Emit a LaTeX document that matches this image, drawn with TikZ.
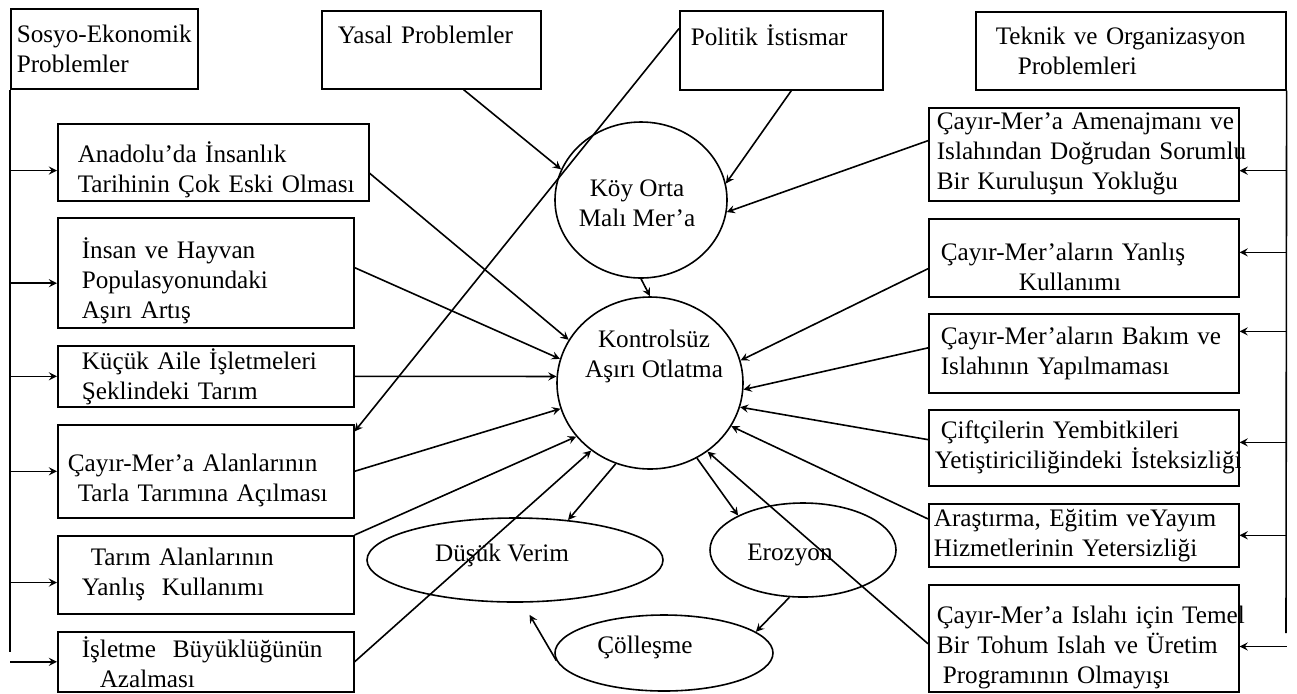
\documentclass[tikz,border=0pt]{standalone}
\usepackage{fontspec}
\setmainfont{Liberation Serif}
\usetikzlibrary{shapes.geometric}
\newcommand{\nodefont}{\fontsize{12.6}{15}\selectfont}
\newcommand{\lowstrut}{\rule{0pt}{18pt}}
\hyphenpenalty=10000
\exhyphenpenalty=10000

\begin{document}
\begin{tikzpicture}[
  x=0.5pt, y=-0.5pt,
  box/.style={draw, thick, anchor=north west, align=left, inner ysep=1pt, font=\nodefont},
  oval/.style={draw, thick, ellipse, inner sep=0pt},
  txt/.style={align=center, inner sep=0pt, font=\nodefont},
  arr/.style={->, thick, >=stealth},
  trunk/.style={thick}
]
  \useasboundingbox (0,0) rectangle (1297,693);

  % headings
  \node[box, inner xsep=3pt, text width=87.5pt, minimum height=40pt] (sosyo) at (10,8) {Sosyo-Ekonomik\\Problemler};
  \node[box, inner xsep=8pt, text width=93.5pt, minimum height=39pt] (yasal) at (321,10) {Yasal~Problemler\\~};
  \node[box, inner xsep=5.5pt, text width=90.5pt, minimum height=39.5pt] (politik) at (679,10) {Politik~İstismar\\~};
  \node[box, inner xsep=10pt, text width=135pt, minimum height=39pt] (teknik) at (975,11) {Teknik~ve~Organizasyon\\\hspace*{11pt}Problemleri};

  % left column
  \node[box, inner xsep=10pt, text width=135.5pt, minimum height=38.5pt] (anadolu) at (57,123) {\lowstrut Anadolu’da~İnsanlık\\Tarihinin~Çok~Eski~Olması};
  \node[box, inner xsep=12pt, text width=124pt, minimum height=55pt] (insan) at (57,217) {\lowstrut İnsan~ve~Hayvan\\Populasyonundaki\\Aşırı~Artış};
  \node[box, inner xsep=12pt, text width=124pt, minimum height=30.5pt] (kucuk) at (57,345) {Küçük~Aile~İşletmeleri\\Şeklindeki~Tarım};
  \node[box, inner xsep=5pt, text width=138pt, minimum height=46.5pt] (cayiralan) at (57,424) {\lowstrut Çayır-Mer’a~Alanlarının\\\hspace*{5pt}Tarla~Tarımına~Açılması};
  \node[box, inner xsep=12pt, text width=124pt, minimum height=39pt] (tarim) at (57,535) {\hspace*{4.5pt}Tarım~Alanlarının\\Yanlış~~Kullanımı};
  \node[box, inner xsep=12pt, text width=124pt, minimum height=30pt] (isletme) at (57,631) {İşletme~~Büyüklüğünün\\\hspace*{9pt}Azalması};

  % right column
  \node[box, inner xsep=4pt, text width=147pt, minimum height=46.5pt] (amenaj) at (928,107) {Çayır-Mer’a~Amenajmanı~ve\\Islahından~Doğrudan~Sorumlu\\Bir~Kuruluşun~Yokluğu};
  \node[box, inner xsep=6pt, text width=143pt, minimum height=39pt] (yanlis) at (928,218) {\lowstrut Çayır-Mer’aların~Yanlış\\\hspace*{39pt}Kullanımı};
  \node[box, inner xsep=6pt, text width=143pt, minimum height=39.5pt] (bakim) at (928,313) {Çayır-Mer’aların~Bakım~ve\\Islahının~Yapılmaması};
  \node[box, inner xsep=3pt, text width=149pt, minimum height=38pt] (ciftci) at (928,409) {\hspace*{3pt}Çiftçilerin~Yembitkileri\\Yetiştiriciliğindeki~İsteksizliği};
  \node[box, inner xsep=2.5pt, text width=150pt, minimum height=31.5pt] (arastirma) at (928,503) {Araştırma,~Eğitim~veYayım\\Hizmetlerinin~Yetersizliği};
  \node[box, inner xsep=4pt, text width=147pt, minimum height=53.5pt] (islah) at (928,584) {\lowstrut Çayır-Mer’a~Islahı~için~Temel\\Bir~Tohum~Islah~ve~Üretim\\\hspace*{3pt}Programının~Olmayışı};

  % centre
  \node[oval, minimum width=86pt, minimum height=78pt] (koy) at (641,200) {};
  \node[txt] (koytxt) at (637,203) {Köy Orta\\Malı Mer’a};
  \node[oval, minimum width=93pt, minimum height=86pt] (kontrol) at (650,383) {};
  \node[txt] (kontroltxt) at (654,356) {Kontrolsüz\\Aşırı Otlatma};
  \node[oval, minimum width=148pt, minimum height=42pt] (dusuk) at (515,560) {};
  \node[txt] (dusuktxt) at (502,555) {Düşük Verim};
  \node[oval, minimum width=93pt, minimum height=47pt] (erozyon) at (803,550) {};
  \node[txt] (erozyontxt) at (790,555) {Erozyon};
  \node[oval, minimum width=109pt, minimum height=38pt] (col) at (664,653) {};
  \node[txt] (coltxt) at (645,647) {Çölleşme};

  % side trunks
  \coordinate (lend) at (10,652);
  \coordinate (rend) at (1286,633);
  \draw[trunk] (sosyo.south west) -- (lend);
  \draw[trunk] (teknik.south east) -- (rend);

  \draw[arr] (sosyo.south west |- anadolu.-177) -- (anadolu.-177);
  \draw[arr] (sosyo.south west |- insan.-176.5) -- (insan.-176.5);
  \draw[arr] (sosyo.south west |- kucuk.west) -- (kucuk.west);
  \draw[arr] (sosyo.south west |- cayiralan.west) -- (cayiralan.west);
  \draw[arr] (sosyo.south west |- tarim.-177) -- (tarim.-177);
  \draw[arr] (sosyo.south west |- isletme.west) -- (isletme.west);

  \draw[arr] (teknik.south east |- amenaj.-6) -- (amenaj.-6);
  \draw[arr] (teknik.south east |- yanlis.2.6) -- (yanlis.2.6);
  \draw[arr] (teknik.south east |- bakim.8.6) -- (bakim.8.6);
  \draw[arr] (teknik.south east |- ciftci.2.2) -- (ciftci.2.2);
  \draw[arr] (teknik.south east |- arastirma.east) -- (arastirma.east);
  \draw[arr] (teknik.south east |- islah.-3.9) -- (islah.-3.9);

  % into Koy Orta Mali Mer'a
  \draw[arr] (yasal.-51) -- (koy.159.6);
  \draw[arr] (politik.-76) -- (koy.11);
  \draw[arr] (amenaj.175) -- (koy.-8.6);
  \draw[arr] (politik.168) -- (cayiralan.15.5);
  \draw[arr] (koy.south) -- (kontrol.north);

  % into Kontrolsuz Asiri Otlatma
  \draw[arr] (anadolu.-4) -- (kontrol.152);
  \draw[arr] (insan.2) -- (kontrol.165.5);
  \draw[arr] (kucuk.east) -- (kontrol.176);
  \draw[arr] (cayiralan.east) -- (kontrol.-164.4);
  \draw[arr] (tarim.north east) -- (kontrol.-144.3);
  \draw[arr] (isletme.east) -- (kontrol.-131);
  \draw[arr] (yanlis.-176) -- (kontrol.14.7);
  \draw[arr] (bakim.178) -- (kontrol.-4.2);
  \draw[arr] (ciftci.177.4) -- (kontrol.-15.9);
  \draw[arr] (arastirma.174) -- (kontrol.-28.8);
  \draw[arr] (islah.-178) -- (kontrol.-50);

  % results
  \draw[arr] (kontrol.-113) -- (dusuk.37);
  \draw[arr] (kontrol.-58) -- (erozyon.152.4);
  \draw[arr] (erozyon.-106.7) -- (col.13.7);
  \draw[arr, shorten >=7pt] (col.-176.3) -- (dusuk.-80);
\end{tikzpicture}
\end{document}
